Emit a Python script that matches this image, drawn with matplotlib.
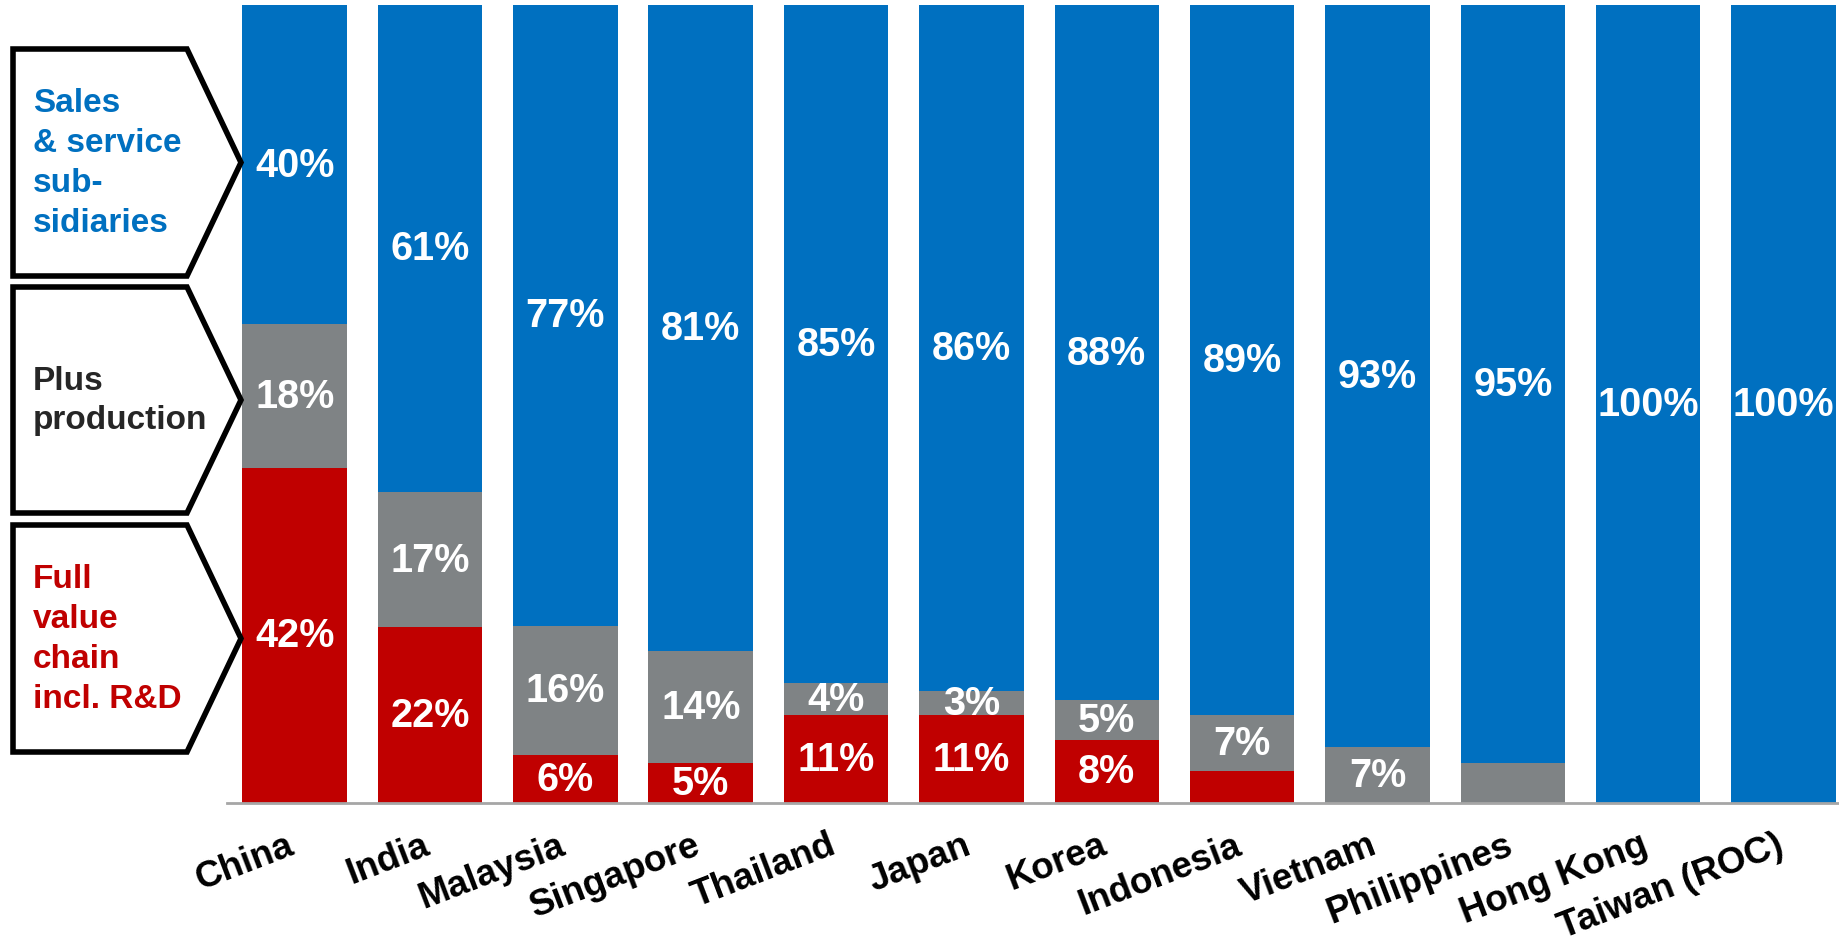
import numpy as np
import matplotlib
matplotlib.use('Agg')
import matplotlib.pyplot as plt
from matplotlib.patches import Polygon

plt.rcParams['font.family'] = ['Liberation Sans', 'DejaVu Sans']

# Data
countries = ['China', 'India', 'Malaysia', 'Singapore', 'Thailand', 'Japan',
             'Korea', 'Indonesia', 'Vietnam', 'Philippines', 'Hong Kong', 'Taiwan (ROC)']
full_chain = [42, 22, 6, 5, 11, 11, 8, 4, 0, 0, 0, 0]      # red
production = [18, 17, 16, 14, 4, 3, 5, 7, 7, 5, 0, 0]      # grey
sales = [40, 61, 77, 81, 85, 86, 88, 89, 93, 95, 100, 100]  # blue
full_chain_lbl = ['42%', '22%', '6%', '5%', '11%', '11%', '8%', '', '', '', '', '']
production_lbl = ['18%', '17%', '16%', '14%', '4%', '3%', '5%', '7%', '7%', '', '', '']
sales_lbl = ['40%', '61%', '77%', '81%', '85%', '86%', '88%', '89%', '93%', '95%', '100%', '100%']

group_names = ['Sales\n& service\nsub-\nsidiaries', 'Plus\nproduction', 'Full\nvalue\nchain\nincl. R&D']
group_colors = ['#0070C0', '#262626', '#C00000']

BLUE = '#0070C0'
GREY = '#7F8385'
RED = '#C00000'

W, H = 1839, 945
fig = plt.figure(figsize=(W / 100, H / 100), dpi=100)

# bar axes placed in pixel terms
left, right, bottom, top = 227, 1839, 804, 6
ax = fig.add_axes([left / W, (H - bottom) / H, (right - left) / W, (bottom - top) / H])

red = np.array(full_chain, float)
grey = np.array(production, float)
blue = np.array(sales, float)
total = red + grey + blue  # rounded shares, scale each bar to 100
red, grey, blue = red / total * 100, grey / total * 100, blue / total * 100

x = np.arange(len(countries))
bw = 0.772
ax.bar(x, red, bw, color=RED)
ax.bar(x, grey, bw, bottom=red, color=GREY)
ax.bar(x, blue, bw, bottom=red + grey, color=BLUE)

for i in range(len(x)):
    segs = [(red[i], 0, full_chain_lbl[i]),
            (grey[i], red[i], production_lbl[i]),
            (blue[i], red[i] + grey[i], sales_lbl[i])]
    for h, b, lbl in segs:
        if lbl:
            ax.text(x[i], b + h / 2, lbl, ha='center', va='center', color='white',
                    fontsize=28.5, fontweight='bold')
    ax.text(x[i] - 0.06, -3.0, countries[i], ha='right', va='top', rotation=21,
            rotation_mode='anchor', fontsize=26.5, fontweight='bold', color='black',
            clip_on=False)

ax.set_xlim(-0.5, 11.41)
ax.set_ylim(0, 100)
for s in ['top', 'right', 'left']:
    ax.spines[s].set_visible(False)
ax.spines['bottom'].set_color('#A6A6A6')
ax.spines['bottom'].set_linewidth(2)
ax.set_xticks([])
ax.set_yticks([])

# arrow boxes on the left, drawn in pixel coordinates
ov = fig.add_axes([0, 0, 1, 1], facecolor='none')
ov.set_xlim(0, W)
ov.set_ylim(H, 0)
ov.axis('off')
boxes = [(50, 277), (288, 514), (526, 753)]
for (y0, y1), name, col in zip(boxes, group_names, group_colors):
    ym = (y0 + y1) / 2
    pts = [(13, y0), (187, y0), (241, ym), (187, y1), (13, y1)]
    ov.add_patch(Polygon(pts, closed=True, facecolor='white', edgecolor='black',
                         linewidth=4, joinstyle='miter'))
    ov.text(33, ym, name, ha='left', va='center', color=col, fontsize=24,
            fontweight='bold', linespacing=1.37)

fig.savefig('out.png', dpi=100)
